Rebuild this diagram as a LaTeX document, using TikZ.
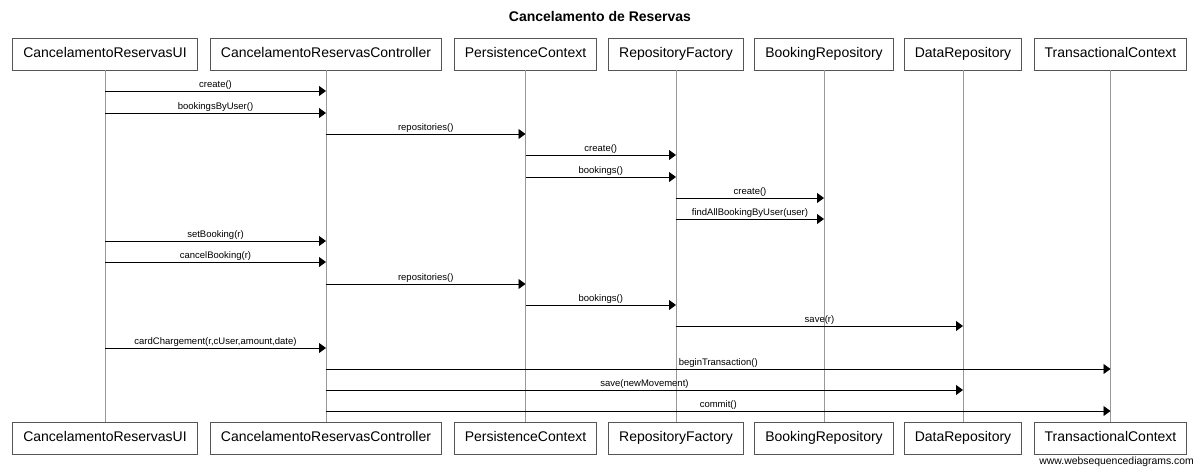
\documentclass[tikz,border=0pt]{standalone}
\usepackage{fontspec}
\setmainfont{Liberation Sans}
\usetikzlibrary{arrows.meta}
\definecolor{boxline}{HTML}{555555}
\definecolor{lifeline}{HTML}{999999}

\begin{document}
\begin{tikzpicture}[x=1pt, y=-1pt,
    participant/.style={draw=boxline, line width=0.9pt, fill=white, inner xsep=10.5pt,
        text height=10pt, text depth=3pt,
        minimum height=32pt, font=\fontsize{14}{16}\selectfont},
    msg/.style={line width=0.8pt, -{Triangle[length=7pt, width=10pt]}},
    msglabel/.style={above, inner sep=1.5pt, font=\fontsize{9.5}{11}\selectfont}]

    \useasboundingbox (0,0) rectangle (1200,472);

    % Title
    \node[font=\bfseries\fontsize{14}{16}\selectfont] (title) at (600,16) {Cancelamento de Reservas};

    % Participants: top and bottom boxes, lifelines in between
    \foreach \name/\x/\text in {ui/105/CancelamentoReservasUI, ctrl/326/CancelamentoReservasController,
        pc/525.5/PersistenceContext, rf/676/RepositoryFactory, br/824/BookingRepository,
        dr/963/DataRepository, tc/1110.5/TransactionalContext} {
        \node[participant] (\name-top) at (\x,54) {\text};
        \node[participant] (\name-bot) at (\x,438) {\text};
        \draw[lifeline, line width=0.9pt] (\name-top.south) -- (\name-bot.north);
    }

    % Messages
    \foreach \from/\to/\y/\label in {ui/ctrl/91/{create()}, ui/ctrl/113/{bookingsByUser()},
        ctrl/pc/134/{repositories()}, pc/rf/155/{create()}, pc/rf/177/{bookings()},
        rf/br/198/{create()}, rf/br/219/{findAllBookingByUser(user)},
        ui/ctrl/241/{setBooking(r)}, ui/ctrl/262/{cancelBooking(r)},
        ctrl/pc/284/{repositories()}, pc/rf/305/{bookings()}, rf/dr/326/{save(r)},
        ui/ctrl/348/{cardChargement(r,cUser,amount,date)},
        ctrl/tc/369/{beginTransaction()}, ctrl/dr/390/{save(newMovement)},
        ctrl/tc/411/{commit()}} {
        \draw[msg] (\from-top.south |- 0,\y) -- (\to-top.south |- 0,\y)
            node[msglabel, midway] {\label};
    }

    % Footer
    \node[anchor=east, inner sep=0pt, font=\fontsize{10.4}{12}\selectfont] (footer) at (1194,462)
        {www.websequencediagrams.com};

\end{tikzpicture}
\end{document}
